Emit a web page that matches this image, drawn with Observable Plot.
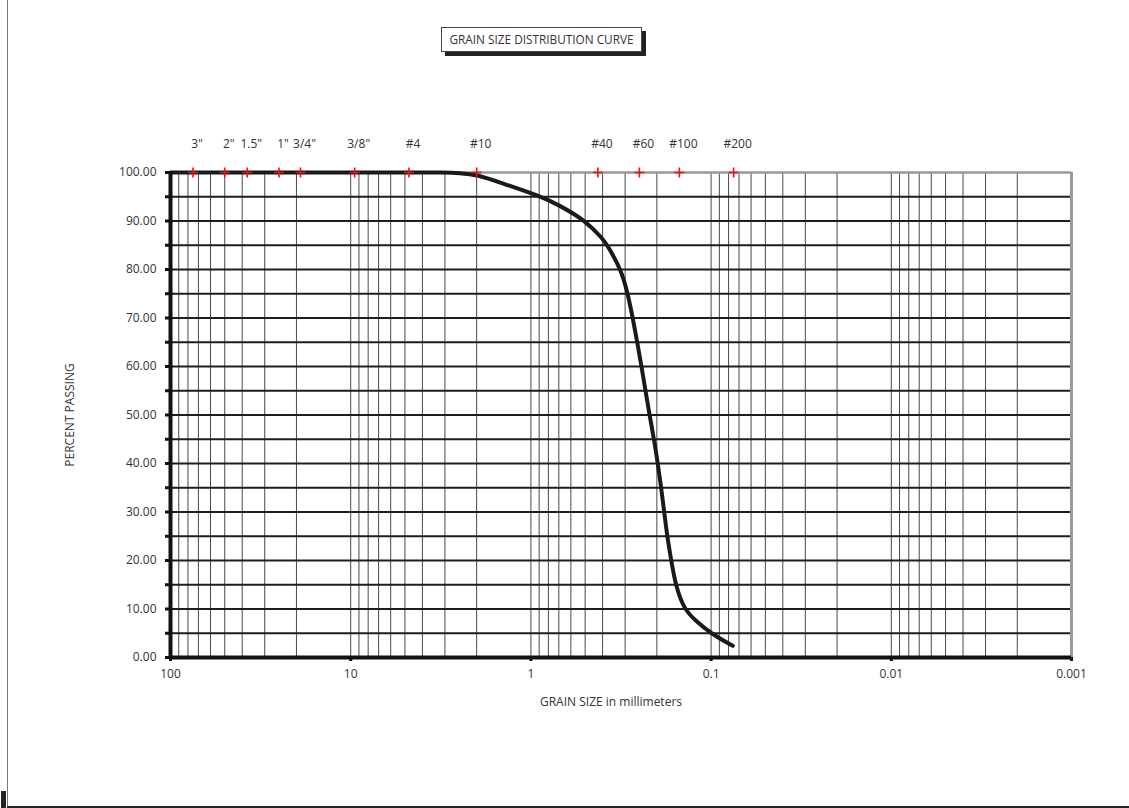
<!DOCTYPE html>
<html><head><meta charset="utf-8">
<script src="https://cdn.jsdelivr.net/npm/d3@7"></script>
<script src="https://cdn.jsdelivr.net/npm/@observablehq/plot@0.6"></script>
<style>
body{margin:0;background:#fff;}
#wrap{position:relative;width:1129px;height:808px;font-family:"Open Sans",sans-serif;overflow:hidden;}
#chart{position:absolute;left:0;top:0;}
#title{position:absolute;left:441px;top:27px;width:201px;height:25px;border:1px solid #444;background:#fff;box-shadow:4px 4px 0 #222;font-size:11.8px;line-height:23px;text-align:center;color:#333;box-sizing:border-box;white-space:nowrap;}
#bl{position:absolute;left:7px;top:0;width:0;height:806px;border-left:1.5px solid #777;}
#bb{position:absolute;left:7px;top:806px;width:1122px;height:0;border-top:2px solid #222;}
#blk{position:absolute;left:1px;top:791px;width:5px;height:17px;background:#222;}
</style></head><body>
<div id="wrap"><div id="chart"></div><div id="title">GRAIN SIZE DISTRIBUTION CURVE</div><div id="bl"></div><div id="bb"></div><div id="blk"></div></div>
<script>
const sieveLabels = ['3"','2"','1.5"','1"','3/4"','3/8"','#4','#10','#40','#60','#100','#200'];
const sieveSizes = [75, 50, 37.5, 25, 19, 9.5, 4.75, 2.0, 0.425, 0.25, 0.15, 0.075];

const grainSize = [100, 4.75, 3.0, 2.5, 2.0, 1.4, 0.885, 0.7, 0.498, 0.396, 0.377, 0.3155, 0.290, 0.272, 0.257, 0.2433, 0.2312, 0.2197, 0.2074, 0.1976, 0.1892, 0.1821, 0.1752, 0.1665, 0.1576, 0.1417, 0.1221, 0.1008, 0.0758];
const percentPassing = [100, 100, 100, 99.9, 99.6, 97.6, 95.1, 93.3, 90.1, 86.2, 85, 80, 75, 70, 65, 60, 55, 50, 45, 40, 35, 30, 25, 20, 15, 10, 7.6, 5, 2.4];

const xTicks = [100, 10, 1, 0.1, 0.01, 0.001];
const xTickLabels = ["100", "10", "1", "0.1", "0.01", "0.001"];
const yTicks = [0, 10, 20, 30, 40, 50, 60, 70, 80, 90, 100];
const yMinor = [0, 5, 10, 15, 20, 25, 30, 35, 40, 45, 50, 55, 60, 65, 70, 75, 80, 85, 90, 95, 100];

const curve = grainSize.map((d, i) => ({size: d, pct: percentPassing[i]}));
const sieves = sieveLabels.map((l, i) => ({label: l, size: sieveSizes[i]}));
const xGrid = [];
xTicks.slice(1).forEach(d => { for (let m = 1; m <= 9; m++) xGrid.push(+(m * d).toPrecision(3)); });
const xLabelMap = new Map(xTicks.map((t, i) => [t, xTickLabels[i]]));
const inner = yMinor.filter(v => v > 0 && v < 100);
const FS = 12;

const hasAxis = typeof Plot.axisY === "function";
const axisMarks = hasAxis ? [
  Plot.axisY({ticks: yMinor, anchor: "left", tickSize: 5, strokeWidth: 3, stroke: "#111", tickFormat: () => "", label: null}),
  Plot.axisY({ticks: yTicks, anchor: "left", tickSize: 0, tickPadding: 14, tickFormat: d => d.toFixed(2), fill: "#333", fontSize: FS, label: null}),
  Plot.axisX({ticks: xTicks, anchor: "bottom", tickSize: 4, strokeWidth: 3, stroke: "#111", tickFormat: () => "", label: null}),
  Plot.axisX({ticks: xTicks, anchor: "bottom", tickSize: 0, tickPadding: 12, tickFormat: d => xLabelMap.get(d), fill: "#333", fontSize: FS, label: null})
] : [
  Plot.dot(yMinor, {x: 100, y: d => d, symbol: "square", r: 2.5, fill: "#111", dx: -3}),
  Plot.text(yTicks, {x: 100, y: d => d, text: d => d.toFixed(2), textAnchor: "end", dx: -14, fill: "#333", fontSize: FS}),
  Plot.dot(xTicks, {x: d => d, y: 0, symbol: "square", r: 2.5, fill: "#111", dy: 2}),
  Plot.text(xTicks, {x: d => d, y: 0, text: d => xLabelMap.get(d), lineAnchor: "top", dy: 12, fill: "#333", fontSize: FS})
];

const plot = Plot.plot({
  width: 1129,
  height: 808,
  marginLeft: 170,
  marginRight: 58,
  marginTop: 172,
  marginBottom: 151,
  style: {fontFamily: "'Open Sans', sans-serif", fontSize: FS + "px", color: "#333", background: "transparent"},
  x: {type: "log", domain: [100, 0.001], axis: null},
  y: {domain: [0, 100], axis: null},
  marks: [
    Plot.ruleX(xGrid, {y1: 0, y2: 100, stroke: "#4a4a4a", strokeWidth: 1}),
    Plot.ruleY(inner, {x1: 100, x2: 0.001, stroke: "#1e1e1e", strokeWidth: 2}),
    Plot.ruleY([100], {x1: 100, x2: 0.001, stroke: "#999", strokeWidth: 2.5}),
    Plot.ruleX([0.001], {y1: 0, y2: 100, stroke: "#999", strokeWidth: 3}),
    Plot.line(curve, {x: "size", y: "pct", stroke: "#1a1a1a", strokeWidth: 4, curve: "basis"}),
    Plot.dot(sieves, {x: "size", y: 100, symbol: "plus", r: 3.3, stroke: "#ee1111", strokeWidth: 1.6}),
    Plot.text(sieves, {x: "size", y: 100, text: "label", dy: -28, dx: 4, fill: "#333", fontSize: FS}),
    Plot.ruleX([100], {y1: 0, y2: 100, stroke: "#111", strokeWidth: 4}),
    Plot.ruleY([0], {x1: 100, x2: 0.001, stroke: "#111", strokeWidth: 4}),
    ...axisMarks,
    Plot.text(["GRAIN SIZE in millimeters"], {frameAnchor: "bottom", textAnchor: "middle", lineAnchor: "middle", dy: 45, dx: -10, fill: "#333", fontSize: FS}),
    Plot.text(["PERCENT PASSING"], {frameAnchor: "left", textAnchor: "middle", lineAnchor: "middle", rotate: -90, dx: -100, fill: "#333", fontSize: FS})
  ]
});
document.getElementById("chart").appendChild(plot);
</script>
</body></html>
